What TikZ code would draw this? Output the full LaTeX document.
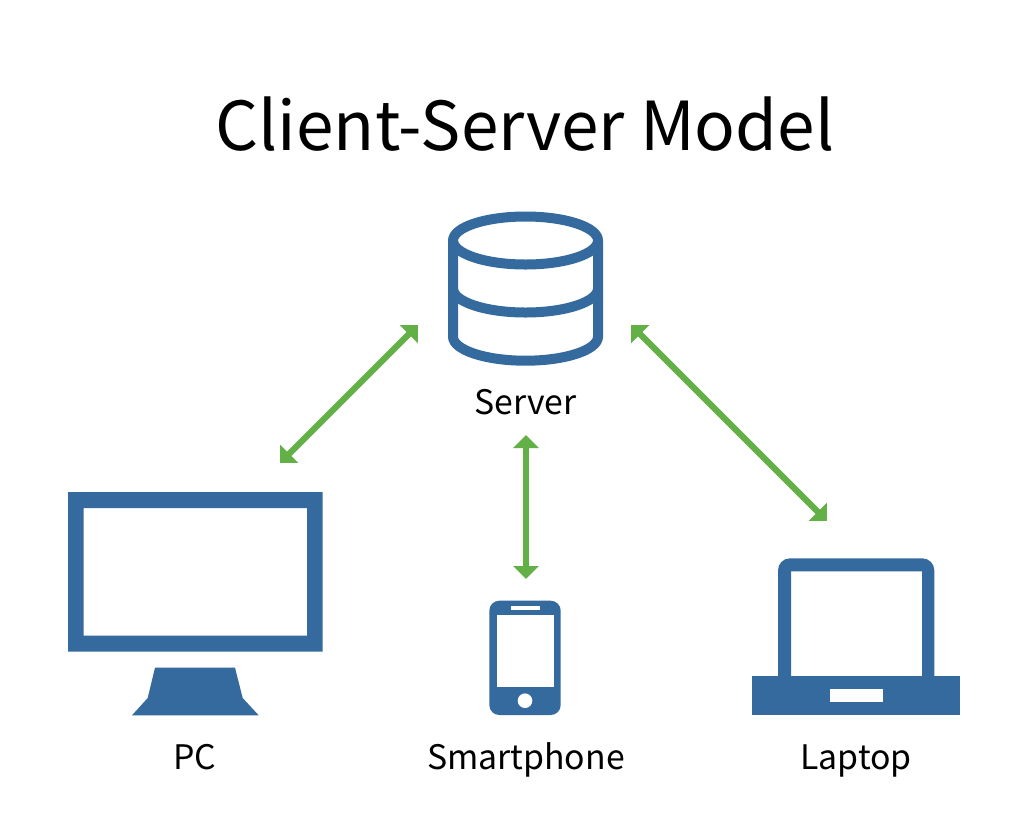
\documentclass[tikz,border=0pt]{standalone}
\usepackage{fontspec}
\setmainfont{Noto Sans CJK JP}
\usetikzlibrary{arrows.meta}
\definecolor{iconblue}{HTML}{356A9F}
\definecolor{arrowgreen}{HTML}{62B046}
\tikzset{
  icon/.style={fill=iconblue,draw=none,even odd rule},
  hole/.style={fill=white,draw=none},
  cyl/.style={draw=iconblue,line width=10pt,line join=round},
  link/.style={draw=arrowgreen,line width=6.3pt,{Triangle[length=13pt,width=25pt]}-{Triangle[length=13pt,width=25pt]}},
  title/.style={font=\fontsize{67.5}{80}\selectfont,text=black,inner sep=0pt,anchor=base},
  label/.style={font=\fontsize{33.8}{40}\selectfont,text=black,inner sep=0pt,anchor=base},
}
\begin{document}
\begin{tikzpicture}[x=1pt,y=-1pt]
\useasboundingbox (0,0) rectangle (1024,839);
\fill[white] (0,0) rectangle (1024,839);
\node[title] (ttl) at (525,150) {Client-Server Model};
% server
\draw[cyl] (525.5,240.5) ellipse [x radius=72.5,y radius=24];
\draw[cyl] (453,240.5) -- (453,336.7) arc [start angle=180,end angle=0,x radius=72.5,y radius=24] -- (598,240.5);
\draw[cyl] (453,288.5) arc [start angle=180,end angle=0,x radius=72.5,y radius=24];
\node[label] (server) at (525.5,414) {Server};
% pc
\fill[icon] (68,492) rectangle (322.7,651.7) (83.7,508) rectangle (307,635.7);
\fill[icon] (155,667.7) -- (235,667.7) -- (242.7,698) -- (258.7,715.3) -- (132,715.3) -- (147.7,698) -- cycle;
\node[label] (pc) at (194.5,769) {PC};
% phone
\fill[icon] (489.3,610.7) arc [start angle=180,end angle=270,radius=10] -- (550.7,600.7) arc [start angle=270,end angle=360,radius=10] -- (560.7,705) arc [start angle=0,end angle=90,radius=10] -- (499.3,715) arc [start angle=90,end angle=180,radius=10] -- cycle;
\fill[hole] (496.7,614.7) rectangle (554,686.7);
\fill[hole] (510.7,605.7) rectangle (540,609.7);
\fill[hole] (525,700.7) circle [radius=7.3];
\node[label] (phone) at (526,769) {Smartphone};
% laptop
\fill[icon] (778,676) -- (778,570.3) arc [start angle=180,end angle=270,radius=12] -- (922.3,558.3) arc [start angle=270,end angle=360,radius=12] -- (934.3,676) -- (922,676) -- (922,571.3) -- (791,571.3) -- (791,676) -- cycle;
\fill[icon] (751.7,676) rectangle (960.3,715);
\fill[hole] (830,689) rectangle (882.7,702.3);
\node[label] (laptop) at (856,769) {Laptop};
% connectors
\coordinate (sl) at (418,325);
\coordinate (pe) at (280,463);
\coordinate (sr) at (631,325);
\coordinate (le) at (827,521);
\coordinate (sb) at (526,435);
\coordinate (pt) at (526,579);
\draw[link] (sl) -- (pe);
\draw[link] (sr) -- (le);
\draw[link] (sb) -- (pt);
\end{tikzpicture}
\end{document}
